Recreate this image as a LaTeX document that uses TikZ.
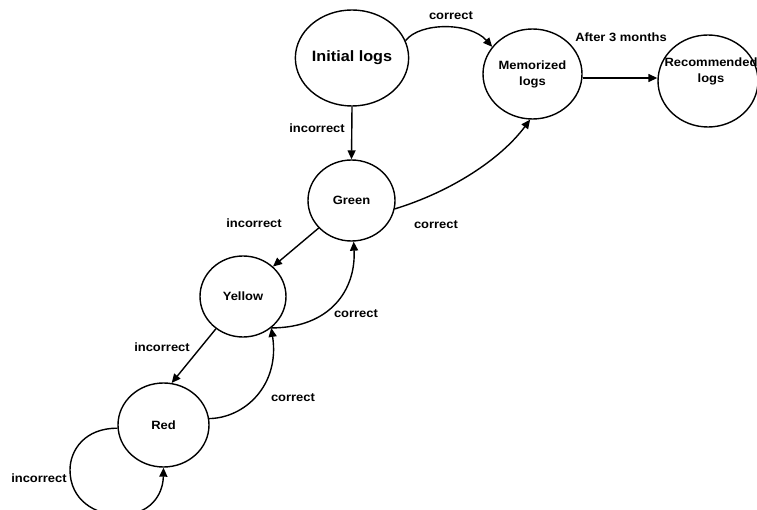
\documentclass[tikz,border=0pt]{standalone}
\usepackage{fontspec}
\setmainfont[FakeStretch=1.08]{Liberation Sans}
\usetikzlibrary{shapes.geometric,arrows.meta}
\begin{document}
\begin{tikzpicture}[x=1pt,y=-1pt,
  st/.style={draw,ellipse,line width=1.4pt,inner sep=0pt,align=center,
    font=\fontsize{12}{16}\selectfont\bfseries},
  lbl/.style={font=\fontsize{12}{14}\selectfont\bfseries,inner sep=0pt},
  arr/.style={line width=1.4pt,-{Triangle[length=9pt,width=8pt]}}]
\useasboundingbox (0,0) rectangle (757,510);
% states
\node[st,minimum width=102pt,minimum height=96pt,font=\fontsize{15}{18}\selectfont\bfseries] (ini) at (352,58) {Initial logs};
\node[st,minimum width=99pt,minimum height=90pt] (mem) at (532.5,74) {Memorized\\logs};
\node[st,minimum width=100pt,minimum height=92pt] (rec) at (708,81) {};
\node[lbl,align=center,font=\fontsize{12}{16}\selectfont\bfseries] (rect) at (711,71) {Recommended\\logs};
\node[st,minimum width=87pt,minimum height=81pt] (grn) at (351.5,200.5) {Green};
\node[st,minimum width=86pt,minimum height=81pt] (yel) at (243,296.5) {Yellow};
\node[st,minimum width=91pt,minimum height=84pt] (red) at (163.5,425) {Red};
% connectors
\draw[arr] (ini.18) .. controls (420,22) and (470,22) .. (mem.146);
\draw[arr] ([yshift=-4pt]mem.east) -- ([yshift=3pt]rec.west);
\draw[arr] (ini.south) -- (grn.north);
\draw[arr] (grn.-11) .. controls (450,192) and (500,160) .. (mem.-93);
\draw[arr] (grn.-140) -- (yel.45);
\draw[arr] (yel.-48) .. controls (330,328) and (356,290) .. (grn.-87);
\draw[arr] (yel.-130) -- (red.79);
\draw[arr] (red.8) .. controls (245,418) and (280,385) .. (yel.-48);
\draw[arr] (red.184) .. controls (85,428) and (70,450) .. (70,470)
  .. controls (70,500) and (95,515) .. (120,515)
  .. controls (150,515) and (163,495) .. (red.south);
% labels
\node[lbl] (l1) at (451,16) {correct};
\node[lbl] (l2) at (621,37) {After 3 months};
\node[lbl] (l3) at (317,128) {incorrect};
\node[lbl] (l4) at (254,223) {incorrect};
\node[lbl] (l5) at (436,225) {correct};
\node[lbl] (l6) at (356,314) {correct};
\node[lbl] (l7) at (162,347) {incorrect};
\node[lbl] (l8) at (293,398) {correct};
\node[lbl] (l9) at (39,478) {incorrect};
\end{tikzpicture}
\end{document}
